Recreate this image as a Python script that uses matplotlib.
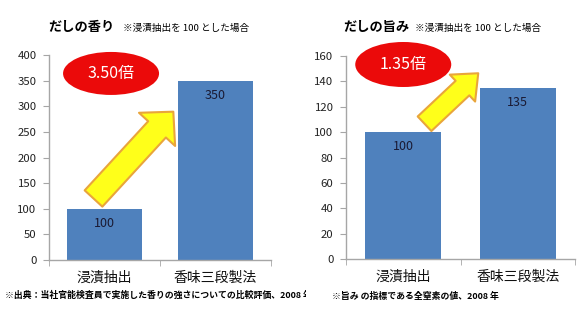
import matplotlib
matplotlib.use("Agg")
import matplotlib.pyplot as plt
from matplotlib.patches import Ellipse, FancyArrowPatch, ArrowStyle, Rectangle

plt.rcParams['font.family'] = ['Noto Sans CJK JP', 'DejaVu Sans']

categories = ['浸漬抽出', '香味三段製法']
aroma_values = [100, 350]
umami_values = [100, 135]
aroma_ticks = [0, 50, 100, 150, 200, 250, 300, 350, 400]
umami_ticks = [0, 20, 40, 60, 80, 100, 120, 140, 160]
aroma_title = 'だしの香り'
umami_title = 'だしの旨み'
note_text = '※浸漬抽出を 100 とした場合'
aroma_ratio = '3.50倍'
umami_ratio = '1.35倍'
aroma_source = '※出典：当社官能検査員で実施した香りの強さについての比較評価、2008 年'
umami_source = '※旨み の指標である全窒素の値、2008 年'

W, H = 586, 309
fig = plt.figure(figsize=(W / 100, H / 100), dpi=100)
fig.patch.set_facecolor('white')

BAR = '#4F81BD'
GRAY = '#A6A6A6'


def style_axes(ax, values, ticks, width):
    x = range(len(values))
    bars = ax.bar(x, values, width=width, color=BAR, zorder=2)
    ax.set_xlim(-0.5, len(values) - 0.5)
    ax.set_ylim(ticks[0], ticks[-1])
    ax.set_yticks(ticks)
    ax.set_xticks(list(x))
    ax.set_xticklabels(categories, fontsize=10, color='#111111')
    ax.set_xticks([-0.5, 0.5, 1.5], minor=True)
    ax.tick_params(axis='x', which='major', length=0, pad=8)
    ax.tick_params(axis='x', which='minor', length=4, color=GRAY, direction='out')
    ax.tick_params(axis='y', length=4, color=GRAY, labelsize=8.2, labelcolor='#222222', pad=5)
    for s in ['top', 'right']:
        ax.spines[s].set_visible(False)
    for s in ['left', 'bottom']:
        ax.spines[s].set_color(GRAY)
        ax.spines[s].set_linewidth(1.0)
    for b, v in zip(bars, values):
        ax.annotate(str(v), (b.get_x() + b.get_width() / 2, v), xytext=(0, -10.5),
                    textcoords='offset points', ha='center', va='center',
                    fontsize=9, color='#1a1a33', zorder=5)
    return bars


ax1 = fig.add_axes([49 / W, 49 / H, 222 / W, 205 / H])
style_axes(ax1, aroma_values, aroma_ticks, 0.68)
ax2 = fig.add_axes([346 / W, 50 / H, 229 / W, 203 / H])
style_axes(ax2, umami_values, umami_ticks, 0.66)

# arrows
a1 = FancyArrowPatch((-0.099, 120), (0.62, 289.4),
                     arrowstyle=ArrowStyle.Simple(head_length=17.3, head_width=35.3, tail_width=17.3),
                     mutation_scale=1, shrinkA=0, shrinkB=0,
                     facecolor='#FFFF1A', edgecolor='#E9A53B', linewidth=1.5, zorder=4, clip_on=False)
ax1.add_patch(a1)
a2 = FancyArrowPatch((0.186, 106.6), (0.655, 146.4),
                     arrowstyle=ArrowStyle.Simple(head_length=15.6, head_width=26.6, tail_width=14.4),
                     mutation_scale=1, shrinkA=0, shrinkB=0,
                     facecolor='#FFFF1A', edgecolor='#E9A53B', linewidth=1.5, zorder=4, clip_on=False)
ax2.add_patch(a2)

# ellipses
e1 = Ellipse((0.059, 364), 96 / 111, 43 / 205 * 400, facecolor='#EB0A0A', edgecolor='none',
             zorder=6, clip_on=False)
ax1.add_patch(e1)
ax1.text(0.059, 364, aroma_ratio, ha='center', va='center', color='white', fontsize=11.5,
         zorder=7, clip_on=False)
e2 = Ellipse((0.0, 153.3), 96 / 114.5, 45 / 203 * 160, facecolor='#EB0A0A', edgecolor='none',
             zorder=6, clip_on=False)
ax2.add_patch(e2)
ax2.text(0.0, 153.3, umami_ratio, ha='center', va='center', color='white', fontsize=11.5,
         zorder=7, clip_on=False)

# titles
fig.text(48 / W, 1 - 27 / H, aroma_title, fontsize=9.5, fontweight='bold', ha='left', va='center')
fig.text(123 / W, 1 - 28 / H, note_text, fontsize=6.9, ha='left', va='center')
fig.text(343 / W, 1 - 27 / H, umami_title, fontsize=9.5, fontweight='bold', ha='left', va='center')
fig.text(415 / W, 1 - 28 / H, note_text, fontsize=6.9, ha='left', va='center')

# footnotes
fig.text(5 / W, 1 - 295 / H, aroma_source, fontsize=6.4, fontweight='bold', ha='left', va='center',
         zorder=1)
# white panel of the right chart covering the overflow of the left footnote
fig.patches.append(Rectangle((306 / W, 0), 1 - 306 / W, 21 / H, transform=fig.transFigure,
                             facecolor='white', edgecolor='none', zorder=2))
fig.text(332 / W, 1 - 296 / H, umami_source, fontsize=6.4, fontweight='bold', ha='left', va='center',
         zorder=3)

fig.savefig('out.png', dpi=100, facecolor='white')
